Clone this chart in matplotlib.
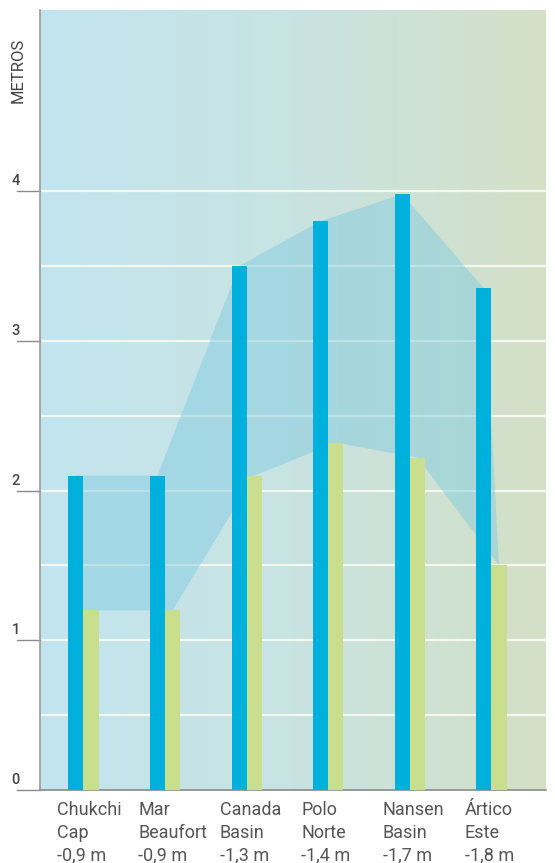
import numpy as np
import matplotlib
matplotlib.use("Agg")
import matplotlib.pyplot as plt
from matplotlib.colors import LinearSegmentedColormap
from matplotlib.patches import Polygon
import matplotlib.transforms as mtransforms

# Ice thickness by region (metres): earlier vs recent, and the thinning
regions = [["Chukchi", "Cap"], ["Mar", "Beaufort"], ["Canada", "Basin"],
           ["Polo", "Norte"], ["Nansen", "Basin"], ["Ártico", "Este"]]
changes = ["-0,9 m", "-0,9 m", "-1,3 m", "-1,4 m", "-1,7 m", "-1,8 m"]
thick_before = [2.1, 2.1, 3.5, 3.8, 3.98, 3.35]
thick_after = [1.2, 1.2, 2.1, 2.32, 2.22, 1.5]
y_ticks = [0, 1, 2, 3, 4]
grid_levels = [0.5, 1.0, 1.5, 2.0, 2.5, 3.0, 3.5, 4.0]

plt.rcParams["font.family"] = ["Roboto", "DejaVu Sans"]

fig = plt.figure(figsize=(5.55, 8.63), dpi=100)
ax = fig.add_axes([40 / 555, 1 - 790 / 863, 506 / 555, 780 / 863])
ax.set_xlim(-0.533, 5.668)
ax.set_ylim(0, 5.21)

# horizontal background gradient: pale blue to pale sage
cmap = LinearSegmentedColormap.from_list("bg", ["#c2e5ef", "#c8e3e2", "#d4e0c6"])
grad = np.linspace(0, 1, 256).reshape(1, -1)
ax.imshow(grad, cmap=cmap, aspect="auto", extent=[0, 1, 0, 1],
          transform=ax.transAxes, zorder=0, interpolation="bicubic")

# white gridlines
for g in grid_levels:
    ax.axhline(g, color="#f4f8ee", lw=1.6, zorder=1)

x = np.arange(len(regions))
w = 0.185
xb = x - w / 2
xg = x + w / 2

# band between the two profiles
upper = list(zip(xb, thick_before))
lower = list(zip(xg, thick_after))[::-1]
lower[-1] = (xb[0], thick_after[0])
band = Polygon(upper + lower, closed=True, facecolor="#7bc9e0", alpha=0.45,
               edgecolor="none", zorder=2)
ax.add_patch(band)

ax.bar(xb, thick_before, width=w, color="#00b0dc", zorder=4)
ax.bar(xg, thick_after, width=w, color="#c9df8e", zorder=3)

# axes frame
for s in ["top", "right"]:
    ax.spines[s].set_visible(False)
ax.spines["left"].set_color("#9a9a9a")
ax.spines["bottom"].set_color("#8a8a8a")
ax.spines["left"].set_linewidth(1.2)
ax.spines["bottom"].set_linewidth(1.2)
ax.set_xticks([])
ax.set_yticks([])

# y labels sitting on short tick rules
trans = mtransforms.blended_transform_factory(ax.transAxes, ax.transData)
for t in y_ticks:
    ax.plot([-0.046, 0], [t, t], color="#8a8a8a", lw=1, transform=trans, clip_on=False)
    ax.text(-0.056, t + 0.02, str(t), transform=trans, ha="left", va="bottom",
            fontsize=10.5, color="#444444", fontweight="medium")

fig.text(18 / 555, 1 - 70 / 863, "METROS", rotation=90, ha="center", va="center",
         fontsize=12, color="#444444")

# category captions, three lines each
for i in range(len(regions)):
    lines = regions[i] + [changes[i]]
    for k, line in enumerate(lines):
        ax.annotate(line, xy=(x[i] - 0.33, 0), xytext=(0, -20 - 22.5 * k),
                    textcoords="offset pixels", ha="left", va="center",
                    fontsize=13, color="#555555", annotation_clip=False)

fig.savefig("out.png", dpi=100)
